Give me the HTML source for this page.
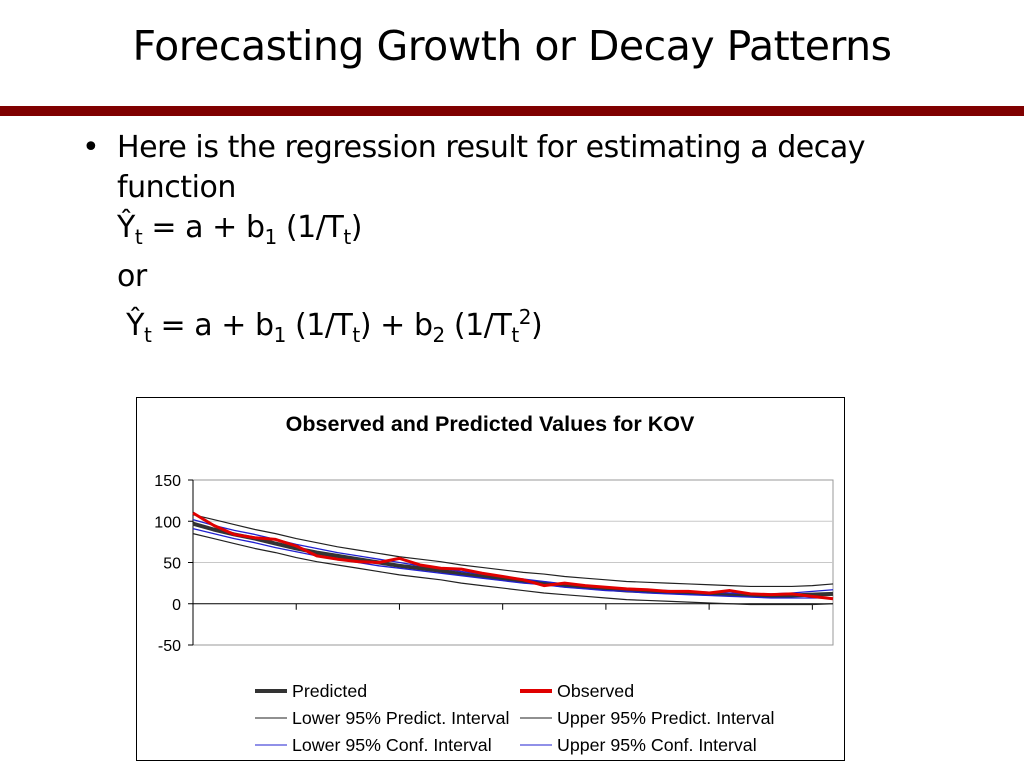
<!DOCTYPE html>
<html><head><meta charset="utf-8"><style>
body{margin:0;width:1024px;height:768px;background:#fff;overflow:hidden;position:relative;font-family:"DejaVu Sans","Liberation Sans",sans-serif;color:#000}
.t{position:absolute;white-space:nowrap}
</style></head><body>
<div class="t" style="left:0;width:1024px;text-align:center;top:22px;font-size:41px;letter-spacing:-0.5px">Forecasting Growth or Decay Patterns</div>
<div style="position:absolute;left:0;top:106px;width:1024px;height:10px;background:#7f0000"></div>
<div class="t" style="left:82px;top:130px;font-size:30px">•</div>
<div class="t" style="left:117px;top:128px;font-size:30px;letter-spacing:-0.45px;line-height:40px">Here is the regression result for estimating a decay<br>function<br>Ŷ<sub style="font-size:20px">t</sub> = a + b<sub style="font-size:20px">1</sub> (1/T<sub style="font-size:20px">t</sub>)<br>or<br>&nbsp;Ŷ<sub style="font-size:20px">t</sub> = a + b<sub style="font-size:20px">1</sub> (1/T<sub style="font-size:20px">t</sub>) + b<sub style="font-size:20px">2</sub> (1/T<sub style="font-size:20px">t</sub><sup style="font-size:20px">2</sup>)</div>
<svg id="chart" width="1024" height="768" style="position:absolute;left:0;top:0" font-family="Liberation Sans, Arial, sans-serif"></svg>
<script>
const yTicks=[150,100,50,0,-50];
const observed=[110,95,84,80,78,70,58,54,51,50,55,47,43,42,37,33,29,22,25,22,20,18,17,15,15,13,16,12,11,12,9,6];
const predicted=[97,90,84,79,73,67,62,58,54,50,46,43,40,36,33,30,27,25,22,20,18,16,15,14,13,12,11,10,10,10,11,12];
const lowerPI=[85,79,73,67,62,56,51,47,43,39,35,32,29,25,22,19,16,13,11,9,7,5,4,3,2,1,0,-1,-1,-1,-1,0];
const upperPI=[108,102,96,90,85,79,74,69,65,61,57,54,51,47,44,41,38,36,33,31,29,27,26,25,24,23,22,21,21,21,22,24];
const lowerCI=[91,85,79,74,68,63,58,54,50,46,43,40,37,34,31,28,25,23,20,18,16,15,13,12,11,10,9,8,7,7,7,7];
const upperCI=[102,95,89,84,78,72,67,62,58,54,50,46,43,39,36,33,30,27,24,22,20,18,17,16,15,14,13,12,12,13,15,17];
const svg=document.getElementById('chart');const NS='http://www.w3.org/2000/svg';
function mk(t,a,p){const e=document.createElementNS(NS,t);for(const k in a)e.setAttribute(k,a[k]);(p||svg).appendChild(e);return e;}
const X0=193,X1=833,Y0=480,Y1=645;
const xs=i=>X0+i*(X1-X0)/(observed.length-1);
const ys=v=>Y0+(150-v)*(Y1-Y0)/200;
const frame=mk('rect',{x:136.5,y:397.5,width:708,height:363,fill:'#fff',stroke:'#000'});


const ct=mk('text',{x:490,y:431,'text-anchor':'middle','font-size':21.5,'font-weight':'bold'});ct.textContent='Observed and Predicted Values for KOV';


const pa=mk('rect',{x:X0,y:Y0,width:X1-X0,height:Y1-Y0,fill:'#fff',stroke:'#999'});


yTicks.forEach(v=>{
 if(v!==0&&v!==150&&v!==-50){const g=mk('line',{x1:X0,x2:X1,y1:ys(v),y2:ys(v),stroke:'#c8c8c8'});}
 mk('line',{x1:X0-5,x2:X0,y1:ys(v),y2:ys(v),stroke:'#000'});
 const t=mk('text',{x:X0-12,y:ys(v)+6,'text-anchor':'end','font-size':16});t.textContent=v;
 
 
});
mk('line',{x1:X0,x2:X0,y1:Y0,y2:Y1,stroke:'#000'});
mk('line',{x1:X0,x2:X1,y1:ys(0),y2:ys(0),stroke:'#000'});
for(let i=0;i<observed.length;i+=5){mk('line',{x1:xs(i),x2:xs(i),y1:ys(0),y2:ys(0)+6,stroke:'#000'});}
function line(arr,col,w,name){const p=mk('polyline',{points:arr.map((v,i)=>xs(i)+','+ys(v)).join(' '),fill:'none',stroke:col,'stroke-width':w,'stroke-linejoin':'round'});
 
 }
line(lowerPI,'#222',1.2,'lower-prediction-interval-line');
line(upperPI,'#222',1.2,'upper-prediction-interval-line');
line(predicted,'#333',4,'predicted-line');
line(lowerCI,'#2020d0',1.3,'lower-confidence-interval-line');
line(upperCI,'#2020d0',1.3,'upper-confidence-interval-line');
line(observed,'#e00000',3,'observed-line');
const leg=[['Predicted','#333',4,255,691],['Observed','#e00000',4,520,691],['Lower 95% Predict. Interval','#222',1,255,718],['Upper 95% Predict. Interval','#222',1,520,718],['Lower 95% Conf. Interval','#2020d0',1,255,745],['Upper 95% Conf. Interval','#2020d0',1,520,745]];
leg.forEach(l=>{const g=mk('g',{});
 
 
 mk('line',{x1:l[3],x2:l[3]+32,y1:l[4],y2:l[4],stroke:l[1],'stroke-width':l[2]},g);
 const t=mk('text',{x:l[3]+37,y:l[4]+6,'font-size':17.8},g);t.textContent=l[0];});
</script>
</body></html>
